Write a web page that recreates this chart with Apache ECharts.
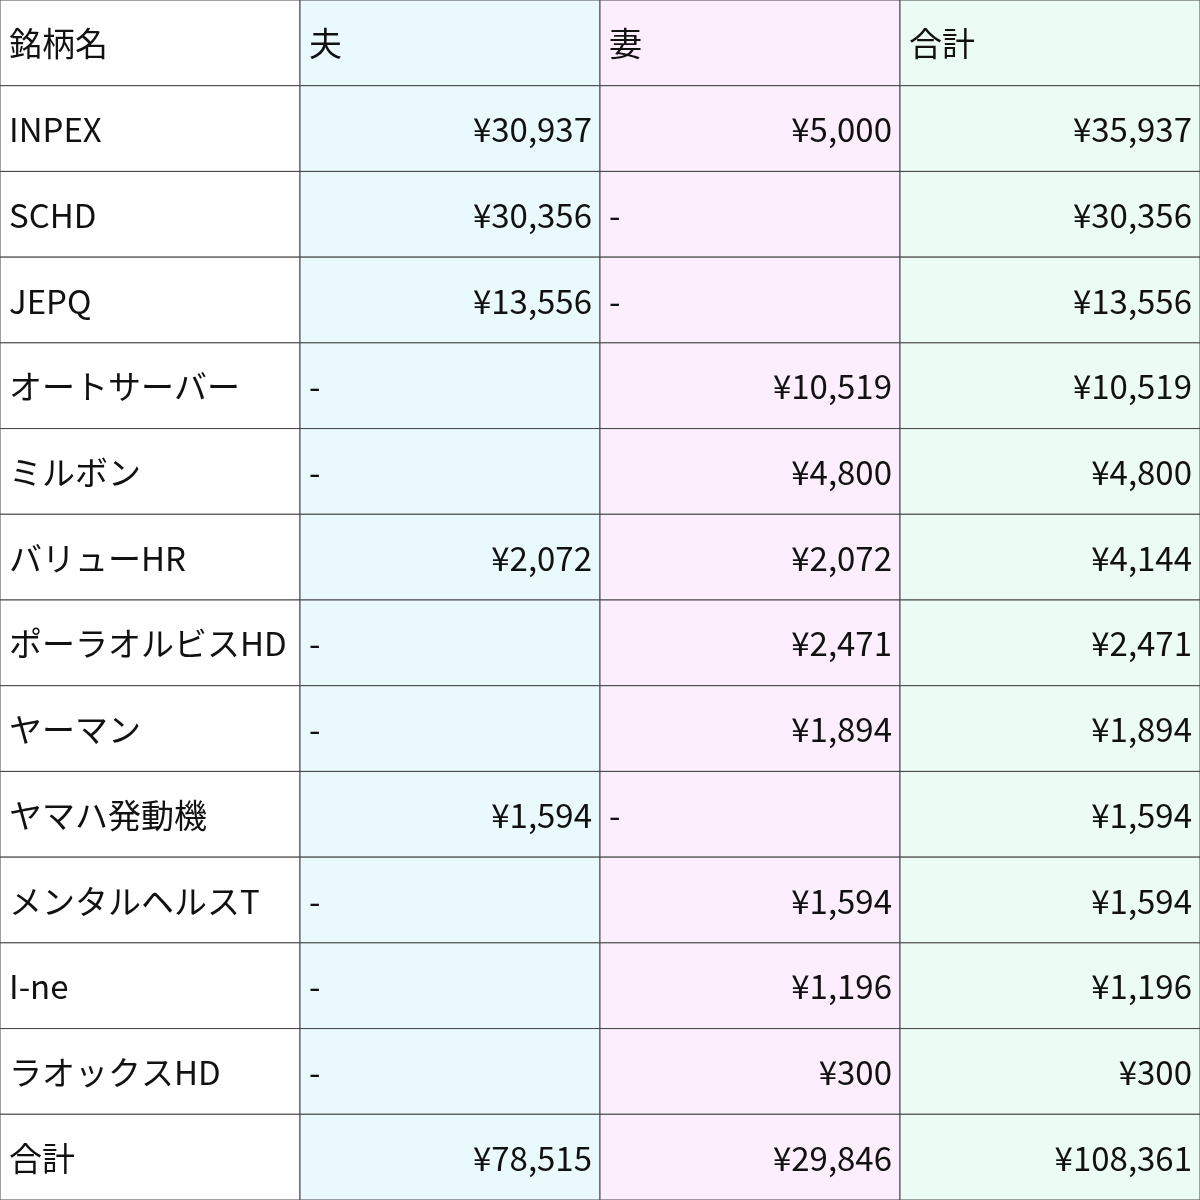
<!DOCTYPE html>
<html>
<head>
<meta charset="utf-8">
<script src="https://cdn.jsdelivr.net/npm/echarts@6/dist/echarts.min.js"></script>
<style>html,body{margin:0;padding:0;background:#fff}#chart{width:1200px;height:1200px}</style>
</head>
<body>
<div id="chart"></div>
<script>
const headers = ["銘柄名", "夫", "妻", "合計"];
const names = ["INPEX", "SCHD", "JEPQ", "オートサーバー", "ミルボン", "バリューHR", "ポーラオルビスHD", "ヤーマン", "ヤマハ発動機", "メンタルヘルスT", "I-ne", "ラオックスHD", "合計"];
const husband = [30937, 30356, 13556, null, null, 2072, null, null, 1594, null, null, null, 78515];
const wife = [5000, null, null, 10519, 4800, 2072, 2471, 1894, null, 1594, 1196, 300, 29846];
const total = [35937, 30356, 13556, 10519, 4800, 4144, 2471, 1894, 1594, 1594, 1196, 300, 108361];
const colColors = ["#ffffff", "#eafafc", "#fdeefd", "#edfbf5"];

const fmt = v => v == null ? "-" : "¥" + v.toLocaleString("en-US");
const cells = [];
headers.forEach((h, c) => cells.push([c, 0, h, 0]));
names.forEach((n, i) => {
    cells.push([0, i + 1, n, 0]);
    [husband, wife, total].forEach((arr, k) => {
        cells.push([k + 1, i + 1, fmt(arr[i]), arr[i] == null ? 0 : 1]);
    });
});

echarts.init(document.querySelector("#chart")).setOption({
    animation: false,
    grid: { left: 0, right: 0, top: 0, bottom: 0 },
    xAxis: { type: "category", data: headers, show: false },
    yAxis: { type: "category", data: ["h"].concat(names.map((n, i) => "r" + i)), inverse: true, show: false },
    series: [{
        type: "custom",
        data: cells,
        renderItem: (params, api) => {
            const c = api.value(0), r = api.value(1);
            const p = api.coord([c, r]);
            const s = api.size([1, 1]);
            const x = p[0] - s[0] / 2, y = p[1] - s[1] / 2;
            const right = api.value(3) === 1;
            return {
                type: "group",
                children: [
                    { type: "rect", shape: { x: x, y: y, width: s[0], height: s[1] },
                      style: { fill: colColors[c], stroke: "#444", lineWidth: 1 } },
                    { type: "text", style: {
                        text: cells[params.dataIndex][2],
                        x: right ? x + s[0] - 8 : x + 9, y: p[1] + 1,
                        align: right ? "right" : "left", verticalAlign: "middle",
                        fontSize: 33, fill: "#111",
                        fontFamily: "Noto Sans CJK JP"
                    } }
                ]
            };
        }
    }]
});
</script>
</body>
</html>
